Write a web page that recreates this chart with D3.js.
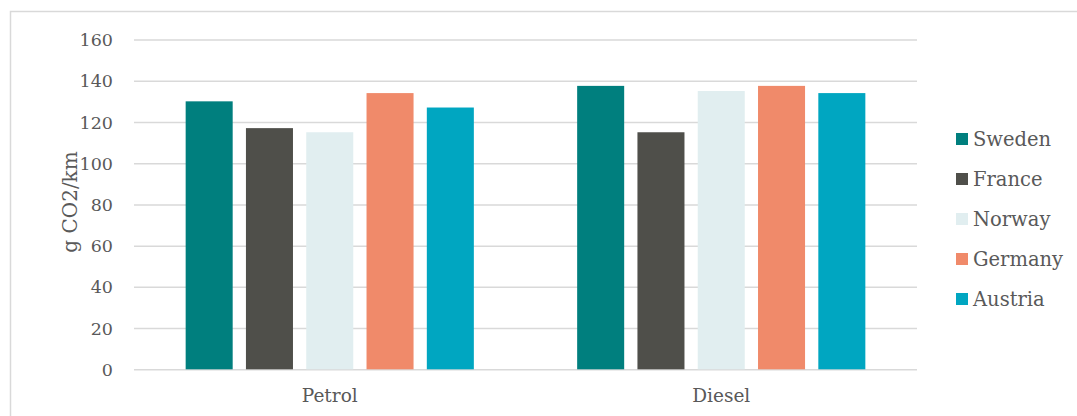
<!DOCTYPE html>
<html>
<head>
<meta charset="utf-8">
<script src="https://cdn.jsdelivr.net/npm/d3@7/dist/d3.min.js"></script>
<style>
  html, body { margin: 0; padding: 0; background: #fff; }
  svg { display: block; }
  text { font-family: "DejaVu Serif", Georgia, serif; fill: #595959; }
</style>
</head>
<body>
<svg id="chart" width="1077" height="416"></svg>
<script>
// Average CO2 emissions of new cars by fuel type
const fuels = ["Petrol", "Diesel"];
const countries = ["Sweden", "France", "Norway", "Germany", "Austria"];
const colors = ["#007f7e", "#4f4f4a", "#e1eef0", "#f08a6a", "#00a6c1"];
const petrol = [130, 117, 115, 134, 127];
const diesel = [137.5, 115, 135, 137.5, 134];
const yTicks = [0, 20, 40, 60, 80, 100, 120, 140, 160];
const yTitle = "g CO2/km";

const seriesByFuel = { Petrol: petrol, Diesel: diesel };

const svg = d3.select("#chart");
const W = 1077, H = 416;

// outer frame (top and left edges visible inside the window)
svg.append("rect")
  .attr("x", 10.5).attr("y", 11.5)
  .attr("width", W + 20).attr("height", H + 20)
  .attr("fill", "none").attr("stroke", "#d9d9d9").attr("stroke-width", 1.5);

const plot = { left: 134, right: 917, top: 39.5, bottom: 369.3 };

const y = d3.scaleLinear().domain([0, 160]).range([plot.bottom, plot.top]);
const x0 = d3.scaleBand().domain(fuels).range([plot.left, plot.right])
  .paddingInner(0.23).paddingOuter(0.115);
const x1 = d3.scaleBand().domain(countries).range([0, x0.bandwidth()])
  .paddingInner(0.22).paddingOuter(0.11);
const color = d3.scaleOrdinal().domain(countries).range(colors);

// horizontal gridlines and tick labels
const yAxis = d3.axisLeft(y).tickValues(yTicks)
  .tickSize(-(plot.right - plot.left)).tickPadding(21).tickFormat(d3.format("d"));
const gy = svg.append("g").attr("transform", `translate(${plot.left},0)`).call(yAxis);
gy.select(".domain").remove();
gy.selectAll(".tick line").attr("stroke", "#d9d9d9").attr("stroke-width", 1.5);
gy.selectAll(".tick text")
  .attr("font-family", "DejaVu Serif, Georgia, serif")
  .attr("font-size", 17.5).attr("fill", "#595959").attr("dy", "0.35em");

// bars
const groups = svg.append("g").selectAll("g").data(fuels).join("g")
  .attr("transform", d => `translate(${x0(d)},0)`);
groups.selectAll("rect")
  .data(f => countries.map((c, i) => ({ country: c, value: seriesByFuel[f][i] })))
  .join("rect")
  .attr("x", d => x1(d.country))
  .attr("y", d => y(d.value))
  .attr("width", x1.bandwidth())
  .attr("height", d => y(0) - y(d.value))
  .attr("fill", d => color(d.country));

// category labels
const xAxis = d3.axisBottom(x0).tickSize(0).tickPadding(20);
const gx = svg.append("g").attr("transform", `translate(0,${plot.bottom})`).call(xAxis);
gx.select(".domain").remove();
gx.selectAll(".tick text")
  .attr("font-family", "DejaVu Serif, Georgia, serif")
  .attr("font-size", 18.5).attr("fill", "#595959");

// y-axis title
svg.append("text")
  .attr("transform", "translate(77,202) rotate(-90)")
  .attr("text-anchor", "middle")
  .attr("font-size", 20)
  .text(yTitle);

// legend
const legend = svg.append("g").attr("transform", "translate(956,139)");
const item = legend.selectAll("g").data(countries).join("g")
  .attr("transform", (d, i) => `translate(0,${i * 40})`);
item.append("rect")
  .attr("x", 0).attr("y", -6).attr("width", 12).attr("height", 12)
  .attr("fill", d => color(d));
item.append("text")
  .attr("x", 17).attr("y", 0).attr("dy", "0.36em")
  .attr("font-size", 19.5)
  .text(d => d);
</script>
</body>
</html>
